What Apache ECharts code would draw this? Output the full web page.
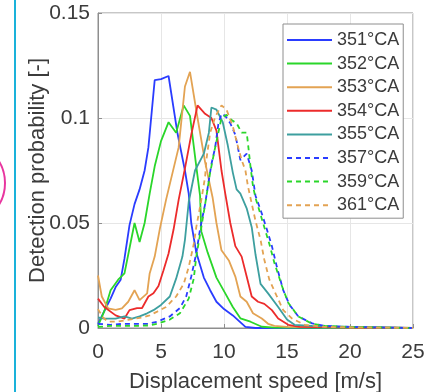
<!DOCTYPE html>
<html>
<head>
<meta charset="utf-8">
<script src="https://cdn.jsdelivr.net/npm/echarts@6/dist/echarts.min.js"></script>
<style>html,body{margin:0;padding:0;background:#fff;}#c{width:428px;height:392px;}</style>
</head>
<body>
<div id="c"></div>
<script>
var seriesNames = ['351°CA','352°CA','353°CA','354°CA','355°CA','357°CA','359°CA','361°CA'];
var seriesColors = ['#2a3cff','#2ad62a','#e3a353','#ec2b2b','#3d9f9f','#2a3cff','#2ad62a','#e3a353'];
var seriesDashed = [false,false,false,false,false,true,true,true];

var s351 = [[0,0.002],[0.5,0.008],[1,0.014],[1.4,0.0195],[1.8,0.023],[2.1,0.033],[2.5,0.049],[2.9,0.059],[3.3,0.066],[3.7,0.075],[4.0,0.086],[4.5,0.118],[5.0,0.1185],[5.6,0.120],[6.3,0.093],[6.9,0.075],[7.2,0.064],[7.4,0.050],[7.8,0.036],[8.4,0.024],[8.9,0.018],[9.4,0.0125],[10.0,0.009],[10.7,0.006],[11.7,0.0005],[12.5,0],[25,0]];
var s352 = [[0,0.001],[0.5,0.008],[1,0.018],[1.6,0.023],[2.1,0.026],[2.5,0.038],[2.9,0.050],[3.3,0.041],[3.7,0.050],[4.1,0.064],[4.5,0.077],[5.0,0.089],[5.6,0.098],[6.2,0.093],[6.8,0.106],[7.3,0.101],[7.8,0.077],[8.1,0.063],[8.2,0.046],[8.7,0.036],[9.4,0.024],[10.1,0.0165],[10.7,0.010],[11.3,0.0046],[12.1,0.003],[13,0.0006],[14,0.0002],[25,0]];
var s353 = [[0,0.025],[0.3,0.015],[0.8,0.0094],[1.4,0.0086],[1.9,0.0094],[2.4,0.0125],[2.9,0.018],[3.3,0.0133],[3.9,0.0165],[4.1,0.026],[4.5,0.034],[4.9,0.047],[5.4,0.061],[6.4,0.086],[6.9,0.115],[7.3,0.122],[7.9,0.100],[8.5,0.079],[9.1,0.062],[9.4,0.050],[9.8,0.037],[10.4,0.032],[10.9,0.0245],[11.3,0.015],[11.8,0.0125],[12.3,0.007],[13,0.0045],[13.5,0.002],[14,0.001],[15,0.0005],[25,0]];
var s354 = [[0,0.014],[0.5,0.010],[1.4,0.006],[2.1,0.0045],[2.5,0.0085],[3.1,0.0095],[3.5,0.0095],[4.0,0.015],[4.4,0.0165],[4.8,0.020],[5.2,0.0275],[5.6,0.0355],[6.0,0.047],[6.4,0.061],[6.9,0.076],[7.4,0.092],[7.9,0.106],[8.5,0.102],[9.0,0.100],[9.4,0.094],[9.8,0.075],[10.1,0.064],[10.5,0.050],[10.9,0.039],[11.4,0.034],[11.8,0.0245],[12.2,0.015],[12.7,0.0125],[13.2,0.0115],[13.8,0.0085],[14.3,0.0045],[15.1,0.0015],[16,0.0005],[25,0]];
var s355 = [[0,0.005],[0.5,0.0045],[1.4,0.0045],[2.1,0.0055],[2.7,0.0045],[3.3,0.0055],[3.9,0.007],[4.4,0.0085],[5.0,0.011],[5.7,0.015],[6.2,0.0235],[6.7,0.034],[6.9,0.042],[7.2,0.060],[7.7,0.075],[8.4,0.083],[8.8,0.093],[9.0,0.105],[9.4,0.104],[9.9,0.098],[10.3,0.087],[10.7,0.074],[11.0,0.066],[11.3,0.064],[11.8,0.057],[12.2,0.048],[12.5,0.035],[12.9,0.021],[13.5,0.0165],[14.3,0.010],[15,0.004],[15.6,0.0015],[17,0.001],[18,0.0008],[25,0]];
var s357 = [[0,0.002],[1,0.0015],[2,0.002],[3,0.002],[4,0.002],[4.7,0.003],[5.7,0.0055],[6.5,0.0095],[7.0,0.015],[7.4,0.0245],[7.8,0.0355],[8.1,0.047],[8.5,0.059],[8.8,0.0705],[9.0,0.078],[9.3,0.086],[9.55,0.097],[9.8,0.102],[10.1,0.101],[10.5,0.0975],[10.9,0.092],[11.3,0.080],[11.8,0.083],[12.2,0.075],[12.5,0.063],[13.0,0.0545],[13.4,0.047],[13.8,0.039],[14.2,0.029],[14.7,0.018],[15.2,0.011],[15.9,0.0055],[17,0.0022],[18,0.001],[20,0.0005],[25,0]];
var s359 = [[0,0.0005],[1,0.001],[2,0.001],[3,0.001],[4,0.0012],[4.7,0.002],[5.7,0.004],[6.5,0.007],[7.2,0.014],[7.6,0.0235],[7.8,0.034],[8.2,0.048],[8.6,0.0625],[8.9,0.074],[9.3,0.086],[9.8,0.100],[10.2,0.1015],[10.6,0.099],[11.0,0.0975],[11.4,0.093],[11.8,0.093],[11.9,0.088],[12.1,0.077],[12.3,0.0675],[12.5,0.062],[13.2,0.048],[13.6,0.040],[14.0,0.031],[14.6,0.020],[15.1,0.012],[15.9,0.0055],[17,0.002],[18,0.001],[20,0.0005],[25,0]];
var s361 = [[0,0.009],[0.4,0.005],[0.8,0.003],[1.5,0.003],[2.5,0.004],[3.5,0.005],[4.1,0.006],[4.7,0.0078],[5.4,0.010],[6.2,0.015],[6.8,0.021],[7.2,0.029],[7.6,0.040],[7.8,0.048],[8.2,0.061],[8.5,0.072],[8.6,0.080],[8.9,0.093],[9.3,0.1005],[9.8,0.106],[10.2,0.104],[10.7,0.096],[11.1,0.0865],[11.4,0.080],[11.7,0.075],[11.9,0.0675],[12.5,0.051],[12.9,0.042],[13.2,0.0325],[13.6,0.023],[14.2,0.015],[14.7,0.0085],[15.4,0.0045],[16.4,0.0015],[18,0.0005],[25,0]];
var seriesData = [s351,s352,s353,s354,s355,s357,s359,s361];

var xTicks = [0,5,10,15,20,25];
var yTicks = [0,0.05,0.1,0.15];

var chart = echarts.init(document.getElementById('c'), null, {renderer:'canvas'});
var textColor = '#3b3b3b';
var fontFam = '"Liberation Sans", Arial, sans-serif';

var series = seriesNames.map(function(n,i){
  return {
    name:n, type:'line', data:seriesData[i], symbol:'none', showSymbol:false,
    lineStyle:{color:seriesColors[i], width:1.8, type: seriesDashed[i] ? [5,4] : 'solid'},
    itemStyle:{color:seriesColors[i]},
    animation:false, silent:true
  };
});

chart.setOption({
  animation:false,
  grid:{left:98, right:15, top:13, bottom:64, show:true, borderColor:'#8e8e8e', borderWidth:1, backgroundColor:'transparent', containLabel:false, outerBoundsMode:'none'},
  xAxis:{type:'value', min:xTicks[0], max:xTicks[xTicks.length-1], interval:5,
    name:'Displacement speed [m/s]', nameLocation:'middle', nameGap:43, nameMoveOverlap:false,
    nameTextStyle:{fontSize:22, color:textColor, fontFamily:fontFam},
    axisLine:{show:true, lineStyle:{color:'#8e8e8e', width:1}},
    axisTick:{show:true, inside:true, length:4, lineStyle:{color:'#8e8e8e'}},
    axisLabel:{fontSize:21, color:textColor, fontFamily:fontFam, margin:14},
    splitLine:{show:true, lineStyle:{color:'#e6e6e6', width:1}}
  },
  yAxis:{type:'value', min:yTicks[0], max:yTicks[yTicks.length-1], interval:0.05,
    name:'Detection probability [-]', nameLocation:'middle', nameGap:49, nameMoveOverlap:false,
    nameTextStyle:{fontSize:22, color:textColor, fontFamily:fontFam},
    axisLine:{show:true, lineStyle:{color:'#8e8e8e', width:1}},
    axisTick:{show:true, inside:true, length:4, lineStyle:{color:'#8e8e8e'}},
    axisLabel:{fontSize:21, color:textColor, fontFamily:fontFam, margin:8},
    splitLine:{show:true, lineStyle:{color:'#e6e6e6', width:1}}
  },
  legend:{
    orient:'vertical', left:283, top:24, data:seriesNames,
    itemWidth:45, itemHeight:12, itemGap:3.6,
    padding:[6,4,3,3],
    itemStyle:{opacity:0},
    backgroundColor:'#ffffff', borderColor:'#8e8e8e', borderWidth:1, borderRadius:0,
    textStyle:{fontSize:18, color:textColor, fontFamily:fontFam, lineHeight:20},
    selectedMode:false
  },
  graphic:[
    {type:'line', shape:{x1:15, y1:0, x2:15, y2:392}, style:{stroke:'#1ab2da', lineWidth:2}, silent:true},
    {type:'circle', shape:{cx:-37, cy:183, r:42}, style:{stroke:'#e8359f', lineWidth:2, fill:'none'}, silent:true}
  ],
  series:series
});
</script>
</body>
</html>
